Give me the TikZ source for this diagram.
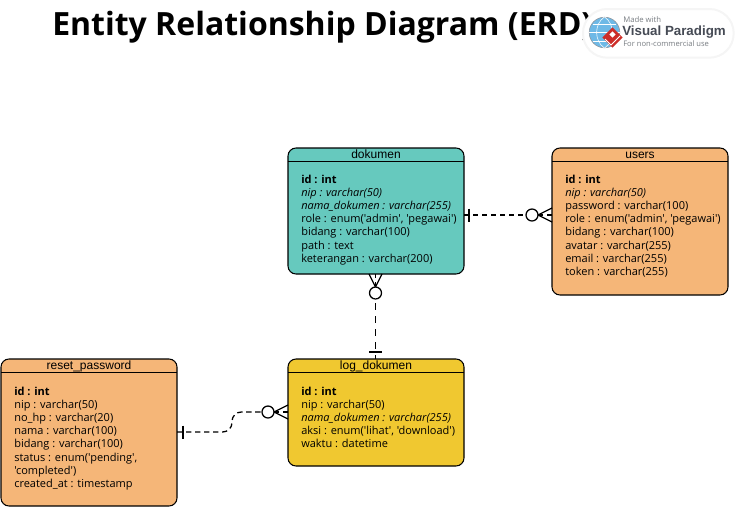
\documentclass[tikz,border=0pt]{standalone}
\usepackage{fontspec}
\setmainfont{Open Sans}
\newfontfamily\attrfont{Open Sans}
\newfontfamily\headfont{Liberation Sans}
\usetikzlibrary{shapes.geometric, arrows.meta, positioning, calc}
\definecolor{dokumenteal}{RGB}{102, 201, 190}
\definecolor{usersorange}{RGB}{245, 182, 120}
\definecolor{logyellow}{RGB}{240, 200, 48}
\definecolor{vpgray}{RGB}{120, 125, 130}
\definecolor{vpdark}{RGB}{70, 75, 85}
\definecolor{vpblue}{RGB}{110, 185, 230}
\definecolor{vpred}{RGB}{205, 45, 40}

\begin{document}
\begin{tikzpicture}[
        x=0.75pt, y=-0.75pt,
        entity/.style={rectangle, draw=black, line width=0.8pt, rounded corners=6pt, anchor=north west, minimum width=132pt, outer sep=0pt, inner sep=0pt},
        head/.style={anchor=base, inner sep=0pt, font=\headfont\fontsize{9}{9}\selectfont},
        attrs/.style={anchor=north west, inner sep=0pt, align=left, font=\attrfont\fontsize{8.25}{9.9}\selectfont},
        rel/.style={dash pattern=on 4pt off 2.75pt, line width=0.95pt},
        relup/.style={dash pattern=on 5pt off 4.75pt, line width=0.95pt},
        foot/.style={line width=0.95pt},
        bar/.style={line width=1.2pt},
        zero/.style={circle, draw=black, fill=white, line width=0.95pt, minimum size=9pt, inner sep=0pt, outer sep=0pt}
    ]
        \useasboundingbox (0,0) rectangle (740,507);

        % Title
        \node[anchor=west, inner sep=0pt, font=\bfseries\fontsize{24}{26}\selectfont] (title) at (52,27.5) {Entity Relationship Diagram (ERD)};

        % Logo
        \node[draw=black!4, line width=1.5pt, fill=white, rounded corners=18pt, minimum width=113pt, minimum height=36.5pt, anchor=north west, inner sep=0pt] (logo) at (582,8) {};
        \node[circle, fill=vpblue, draw=vpdark!60, line width=0.4pt, minimum size=23pt, inner sep=0pt] (globe) at (604.5,32.5) {};
        \draw[white, line width=0.4pt] (globe.north) .. controls (594,24) and (594,41) .. (globe.south);
        \draw[white, line width=0.4pt] (globe.north) .. controls (615,24) and (615,41) .. (globe.south);
        \draw[white, line width=0.4pt] (globe.west) -- (globe.east);
        \draw[white, line width=0.4pt] (593,24) -- (616,24);
        \draw[white, line width=0.4pt] (593,41) -- (616,41);
        \node[diamond, fill=vpred, minimum size=15.5pt, inner sep=0pt] (vpmark) at (612.5,37.5) {};
        \node[diamond, fill=white, minimum size=5pt, inner sep=0pt] (vpinner) at (612.5,34.5) {};
        \draw[white, line width=0.7pt] (605,39) -- (611,45) -- (620,36);
        \node[anchor=west, inner sep=0pt, text=vpgray, font=\fontsize{5.8}{6}\selectfont] (vpmade) at (623,20) {Made with};
        \node[anchor=west, inner sep=0pt, text=vpdark, font=\headfont\bfseries\fontsize{10}{10}\selectfont] (vpname) at (622,32) {Visual Paradigm};
        \node[anchor=west, inner sep=0pt, text=vpgray, font=\fontsize{5.7}{6}\selectfont] (vpnote) at (623,44) {For non-commercial use};

        % Entities
        \node[entity, fill=dokumenteal, minimum height=94.5pt] (dokumen) at (288,148) {};
        \node[entity, fill=usersorange, minimum height=110.25pt] (users) at (552,148) {};
        \node[entity, fill=logyellow, minimum height=80.25pt] (log) at (288,359) {};
        \node[entity, fill=usersorange, minimum height=110.25pt] (reset) at (1,359) {};

        % Header lines
        \draw[line width=0.8pt] ($(dokumen.north west)+(0,13.5)$) -- ($(dokumen.north east)+(0,13.5)$);
        \draw[line width=0.8pt] ($(users.north west)+(0,13.5)$) -- ($(users.north east)+(0,13.5)$);
        \draw[line width=0.8pt] ($(log.north west)+(0,13.5)$) -- ($(log.north east)+(0,13.5)$);
        \draw[line width=0.8pt] ($(reset.north west)+(0,13.5)$) -- ($(reset.north east)+(0,13.5)$);

        % Headers
        \node[head] (dokumenhead) at ($(dokumen.north)+(0,10)$) {dokumen};
        \node[head] (usershead) at ($(users.north)+(0,10)$) {users};
        \node[head] (loghead) at ($(log.north)+(0,10)$) {log\_dokumen};
        \node[head] (resethead) at ($(reset.north)+(0,10)$) {reset\_password};

        % Attributes
        \node[attrs] (dokumenattrs) at (301,174.5) {\textbf{id : int}\\\textit{nip : varchar(50)}\\\textit{nama\_dokumen : varchar(255)}\\role : enum('admin', 'pegawai')\\bidang : varchar(100)\\path : text\\keterangan : varchar(200)};
        \node[attrs] (usersattrs) at (565,174.5) {\textbf{id : int}\\\textit{nip : varchar(50)}\\password : varchar(100)\\role : enum('admin', 'pegawai')\\bidang : varchar(100)\\avatar : varchar(255)\\email : varchar(255)\\token : varchar(255)};
        \node[attrs] (logattrs) at (301,386.5) {\textbf{id : int}\\nip : varchar(50)\\\textit{nama\_dokumen : varchar(255)}\\aksi : enum('lihat', 'download')\\waktu : datetime};
        \node[attrs] (resetattrs) at (14,386.5) {\textbf{id : int}\\nip : varchar(50)\\no\_hp : varchar(20)\\nama : varchar(100)\\bidang : varchar(100)\\status : enum('pending',\\'completed')\\created\_at : timestamp};

        % Optional circles
        \node[zero] (zerousers) at (532,215) {};
        \node[zero] (zerodok) at (375.5,293) {};
        \node[zero] (zerolog) at (268,412) {};

        % dokumen to users
        \draw[rel] (dokumen.east |- zerousers) -- (zerousers);
        \draw[bar] ($(dokumen.east |- zerousers)+(5,-6.5)$) -- ++(0,13);
        \draw[foot] (zerousers.east) -- ($(users.west |- zerousers)+(0,-7)$);
        \draw[foot] (zerousers.east) -- ($(users.west |- zerousers)+(0,7)$);
        \draw[rel] (zerousers.east) -- (users.west |- zerousers);

        % log_dokumen to dokumen
        \draw[relup] (zerodok.south) ++(0,4) -- (zerodok |- log.north);
        \draw[bar] ($(zerodok |- log.north)+(-6.5,-7)$) -- ++(13,0);
        \draw[foot] (zerodok.north) -- ($(zerodok |- dokumen.south)+(-6.5,0)$);
        \draw[foot] (zerodok.north) -- ($(zerodok |- dokumen.south)+(6.5,0)$);
        \draw[rel] (zerodok.north) -- (zerodok |- dokumen.south);

        % reset_password to log_dokumen
        \coordinate (resetout) at (reset.east |- 0,432);
        \draw[rel, rounded corners=7pt] (resetout) -- (232,432) -- (232,412) -- (zerolog);
        \draw[bar] ($(resetout)+(6,-6.5)$) -- ++(0,13);
        \draw[foot] (zerolog.east) -- ($(log.west |- zerolog)+(0,-7)$);
        \draw[foot] (zerolog.east) -- ($(log.west |- zerolog)+(0,7)$);
        \draw[rel] (zerolog.east) -- (log.west |- zerolog);
    \end{tikzpicture}
\end{document}
